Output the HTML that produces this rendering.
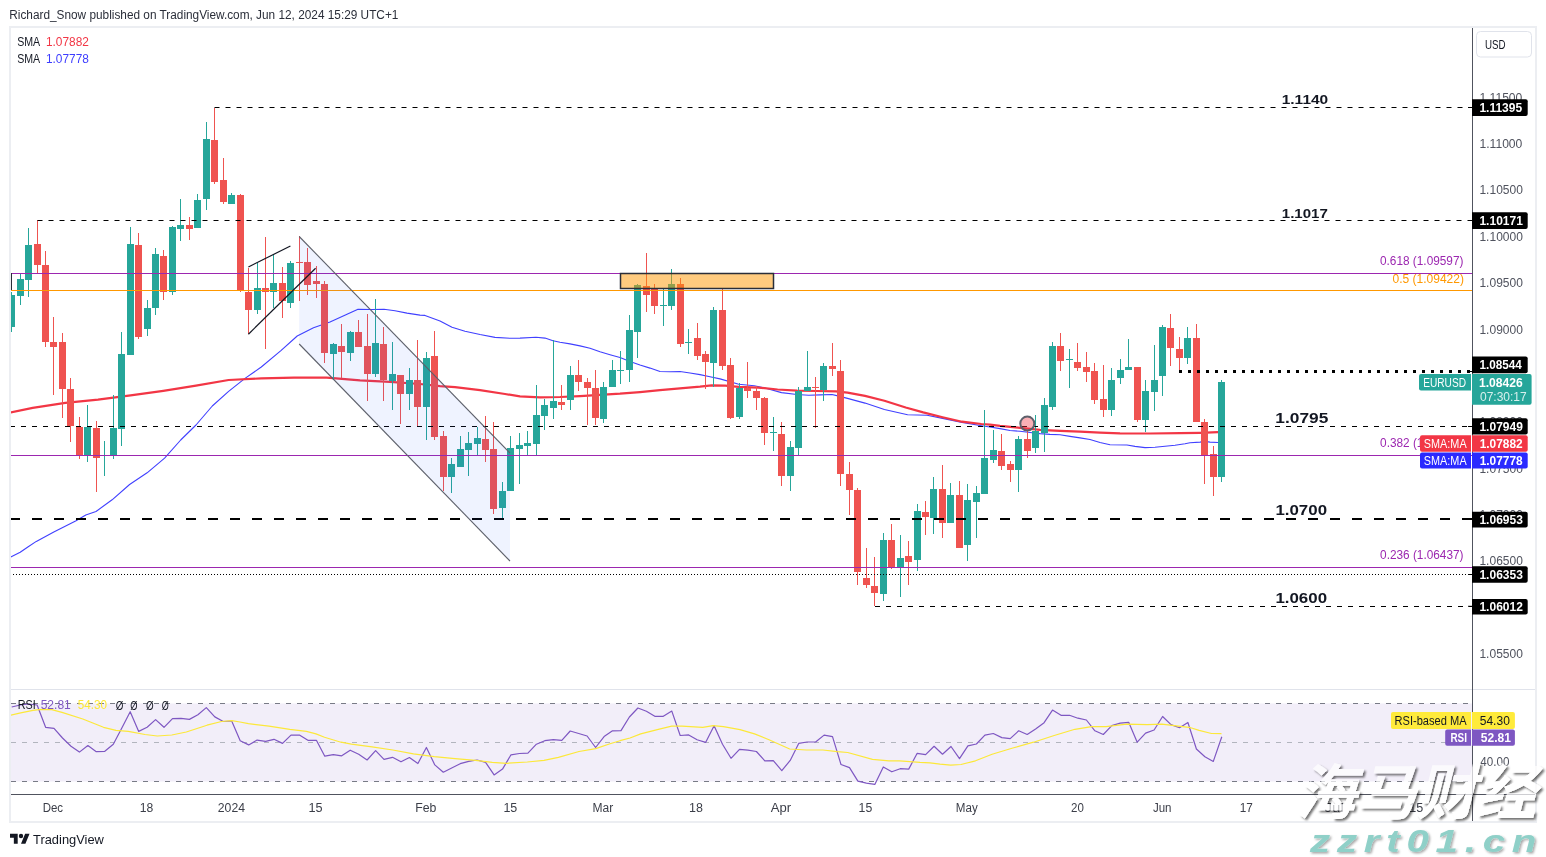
<!DOCTYPE html>
<html><head><meta charset="utf-8"><title>EURUSD chart</title>
<style>
html,body{margin:0;padding:0;background:#fff;}
body{width:1546px;height:857px;overflow:hidden;position:relative;font-family:"Liberation Sans", Arial, sans-serif;}
svg{position:absolute;left:0;top:0;}
svg text{font-family:"Liberation Sans", Arial, sans-serif;}
</style></head><body>
<svg width="1546" height="857" viewBox="0 0 1546 857">
<defs>
<clipPath id="cm"><rect x="11" y="28" width="1461.5" height="661"/></clipPath>
<clipPath id="cr"><rect x="11" y="690" width="1461.5" height="104"/></clipPath>
<filter id="wsh" x="-10%" y="-10%" width="130%" height="130%"><feGaussianBlur in="SourceAlpha" stdDeviation="1.1" result="b"/><feOffset in="b" dx="1.8" dy="1.8" result="o"/><feComposite in="o" in2="SourceAlpha" operator="out" result="so"/><feFlood flood-color="#000" flood-opacity="0.55"/><feComposite in2="so" operator="in" result="sh"/><feComponentTransfer in="SourceGraphic" result="g"><feFuncA type="linear" slope="0.72"/></feComponentTransfer><feMerge><feMergeNode in="sh"/><feMergeNode in="g"/></feMerge></filter>
<filter id="wsh2" x="-10%" y="-10%" width="130%" height="130%"><feDropShadow dx="1.5" dy="1.5" stdDeviation="0.8" flood-color="#000" flood-opacity="0.35"/></filter>
</defs>

<text x="9.27" y="19.1" font-size="12.5" fill="#2a2e39" font-weight="normal" textLength="389.13" lengthAdjust="spacingAndGlyphs">Richard_Snow published on TradingView.com, Jun 12, 2024 15:29 UTC+1</text>
<rect x="10" y="27" width="1526" height="795" fill="#fff" stroke="#eceef2" stroke-width="2"/>
<g clip-path="url(#cm)">
<polyline fill="none" stroke="#4040ff" stroke-width="1.1" stroke-linejoin="round" points="10.0,557.4 20.2,552.3 27.5,547.2 36.3,541.4 53.8,531.9 75.6,521.0 85.8,515.1 96.0,511.5 112.1,499.8 129.6,484.5 147.1,472.8 164.6,458.2 180.7,440.0 196.0,425.0 212.3,406.0 228.6,391.4 245.0,378.4 261.3,367.0 280.9,350.6 297.2,336.0 313.5,327.8 330.0,321.9 358.0,309.2 372.0,309.5 384.0,309.2 395.0,310.8 407.0,313.1 420.0,315.1 425.0,315.4 440.0,320.9 452.0,327.3 465.0,331.2 480.0,334.5 495.0,337.4 510.0,338.3 520.0,338.1 536.0,337.2 545.0,338.1 553.0,340.7 560.0,342.3 570.0,343.9 580.0,345.9 590.0,348.2 600.0,351.7 610.0,354.7 620.0,357.5 630.0,361.4 640.0,365.0 650.0,368.1 660.0,371.5 670.0,371.7 680.0,371.5 690.0,373.0 700.0,374.6 710.0,376.7 720.0,378.9 738.8,384.3 754.3,385.8 764.0,387.8 781.5,392.6 797.0,394.5 808.7,395.3 820.3,394.9 832.0,394.5 837.8,395.9 847.5,398.4 865.0,403.1 884.4,409.5 907.6,414.7 927.0,415.3 942.6,418.4 962.0,422.4 981.4,425.7 990.0,427.0 1000.0,428.6 1010.0,430.5 1020.0,431.3 1030.0,432.5 1040.0,433.6 1050.0,434.4 1060.0,434.8 1070.0,436.4 1080.0,437.9 1090.0,439.5 1100.0,442.5 1110.0,444.7 1127.0,445.0 1135.0,446.4 1145.0,447.6 1155.0,447.2 1165.0,446.2 1175.0,445.2 1185.0,443.7 1190.0,442.7 1200.0,442.1 1205.0,441.4 1210.0,442.1 1218.0,442.5"/>
<polyline fill="none" stroke="#f23645" stroke-width="2.2" stroke-linejoin="round" points="10.0,412.7 32.7,407.8 65.3,402.9 98.0,399.6 130.6,395.4 163.3,390.8 196.0,385.6 228.6,380.0 261.3,378.4 294.0,377.7 326.6,377.7 330.0,377.8 360.0,380.4 390.0,381.9 420.0,384.0 440.0,386.2 455.0,387.1 480.0,390.1 505.0,394.0 520.0,396.3 540.0,397.4 560.0,397.0 580.0,396.1 600.0,394.8 620.0,393.7 640.0,392.1 660.0,390.1 680.0,388.3 700.0,386.6 711.6,385.3 725.2,385.6 738.8,386.8 758.2,387.6 777.6,389.5 797.0,390.7 816.4,391.0 835.8,391.4 847.5,392.6 865.0,395.9 884.4,400.8 905.7,407.5 923.2,412.4 942.6,417.2 962.0,421.7 981.4,424.0 990.0,424.7 1000.0,425.9 1020.0,427.8 1040.0,429.8 1060.0,430.9 1080.0,431.7 1100.0,432.6 1120.0,433.3 1150.0,433.5 1180.0,433.2 1200.0,432.8 1218.0,432.2"/>
<rect x="11" y="292" width="1" height="40" fill="#26a69a"/>
<rect x="8" y="295" width="7" height="32" fill="#26a69a"/>
<rect x="20" y="274" width="1" height="31" fill="#26a69a"/>
<rect x="17" y="279" width="7" height="17" fill="#26a69a"/>
<rect x="28" y="228" width="1" height="69" fill="#26a69a"/>
<rect x="25" y="245" width="7" height="35" fill="#26a69a"/>
<rect x="37" y="220" width="1" height="53" fill="#ef5350"/>
<rect x="34" y="244" width="7" height="21" fill="#ef5350"/>
<rect x="45" y="251" width="1" height="96" fill="#ef5350"/>
<rect x="42" y="265" width="7" height="77" fill="#ef5350"/>
<rect x="53" y="317" width="1" height="78" fill="#ef5350"/>
<rect x="50" y="342" width="7" height="5" fill="#ef5350"/>
<rect x="62" y="333" width="1" height="85" fill="#ef5350"/>
<rect x="59" y="342" width="7" height="47" fill="#ef5350"/>
<rect x="70" y="378" width="1" height="64" fill="#ef5350"/>
<rect x="67" y="389" width="7" height="37" fill="#ef5350"/>
<rect x="79" y="417" width="1" height="42" fill="#ef5350"/>
<rect x="76" y="427" width="7" height="29" fill="#ef5350"/>
<rect x="87" y="405" width="1" height="57" fill="#26a69a"/>
<rect x="84" y="427" width="7" height="28" fill="#26a69a"/>
<rect x="96" y="421" width="1" height="71" fill="#ef5350"/>
<rect x="93" y="428" width="7" height="30" fill="#ef5350"/>
<rect x="104" y="441" width="1" height="35" fill="#26a69a"/>
<rect x="113" y="395" width="1" height="64" fill="#26a69a"/>
<rect x="110" y="428" width="7" height="27" fill="#26a69a"/>
<rect x="121" y="332" width="1" height="114" fill="#26a69a"/>
<rect x="118" y="354" width="7" height="75" fill="#26a69a"/>
<rect x="130" y="227" width="1" height="128" fill="#26a69a"/>
<rect x="127" y="244" width="7" height="111" fill="#26a69a"/>
<rect x="138" y="233" width="1" height="106" fill="#ef5350"/>
<rect x="135" y="245" width="7" height="92" fill="#ef5350"/>
<rect x="147" y="300" width="1" height="36" fill="#26a69a"/>
<rect x="144" y="308" width="7" height="21" fill="#26a69a"/>
<rect x="155" y="248" width="1" height="67" fill="#26a69a"/>
<rect x="152" y="254" width="7" height="54" fill="#26a69a"/>
<rect x="163" y="250" width="1" height="50" fill="#ef5350"/>
<rect x="160" y="256" width="7" height="36" fill="#ef5350"/>
<rect x="172" y="226" width="1" height="69" fill="#26a69a"/>
<rect x="169" y="227" width="7" height="65" fill="#26a69a"/>
<rect x="180" y="199" width="1" height="42" fill="#26a69a"/>
<rect x="177" y="225" width="7" height="4" fill="#26a69a"/>
<rect x="189" y="217" width="1" height="23" fill="#ef5350"/>
<rect x="186" y="225" width="7" height="4" fill="#ef5350"/>
<rect x="197" y="194" width="1" height="34" fill="#26a69a"/>
<rect x="194" y="200" width="7" height="28" fill="#26a69a"/>
<rect x="206" y="122" width="1" height="88" fill="#26a69a"/>
<rect x="203" y="139" width="7" height="60" fill="#26a69a"/>
<rect x="214" y="108" width="1" height="76" fill="#ef5350"/>
<rect x="211" y="140" width="7" height="42" fill="#ef5350"/>
<rect x="223" y="158" width="1" height="46" fill="#ef5350"/>
<rect x="220" y="180" width="7" height="22" fill="#ef5350"/>
<rect x="231" y="193" width="1" height="11" fill="#26a69a"/>
<rect x="228" y="195" width="7" height="9" fill="#26a69a"/>
<rect x="240" y="194" width="1" height="98" fill="#ef5350"/>
<rect x="237" y="195" width="7" height="95" fill="#ef5350"/>
<rect x="248" y="268" width="1" height="66" fill="#ef5350"/>
<rect x="245" y="292" width="7" height="18" fill="#ef5350"/>
<rect x="257" y="263" width="1" height="51" fill="#26a69a"/>
<rect x="254" y="288" width="7" height="22" fill="#26a69a"/>
<rect x="265" y="237" width="1" height="112" fill="#ef5350"/>
<rect x="262" y="288" width="7" height="4" fill="#ef5350"/>
<rect x="273" y="255" width="1" height="53" fill="#26a69a"/>
<rect x="270" y="283" width="7" height="9" fill="#26a69a"/>
<rect x="282" y="267" width="1" height="51" fill="#ef5350"/>
<rect x="279" y="283" width="7" height="18" fill="#ef5350"/>
<rect x="290" y="261" width="1" height="47" fill="#26a69a"/>
<rect x="287" y="263" width="7" height="40" fill="#26a69a"/>
<rect x="299" y="236" width="1" height="65" fill="#ef5350"/>
<rect x="296" y="262" width="7" height="1" fill="#ef5350"/>
<rect x="307" y="248" width="1" height="47" fill="#ef5350"/>
<rect x="304" y="262" width="7" height="23" fill="#ef5350"/>
<rect x="316" y="266" width="1" height="32" fill="#ef5350"/>
<rect x="313" y="281" width="7" height="3" fill="#ef5350"/>
<rect x="324" y="281" width="1" height="82" fill="#ef5350"/>
<rect x="321" y="284" width="7" height="69" fill="#ef5350"/>
<rect x="333" y="343" width="1" height="36" fill="#26a69a"/>
<rect x="330" y="344" width="7" height="10" fill="#26a69a"/>
<rect x="341" y="324" width="1" height="54" fill="#ef5350"/>
<rect x="338" y="346" width="7" height="6" fill="#ef5350"/>
<rect x="350" y="331" width="1" height="30" fill="#26a69a"/>
<rect x="347" y="332" width="7" height="21" fill="#26a69a"/>
<rect x="358" y="320" width="1" height="27" fill="#ef5350"/>
<rect x="355" y="332" width="7" height="15" fill="#ef5350"/>
<rect x="367" y="314" width="1" height="87" fill="#ef5350"/>
<rect x="364" y="346" width="7" height="28" fill="#ef5350"/>
<rect x="375" y="299" width="1" height="78" fill="#26a69a"/>
<rect x="372" y="343" width="7" height="31" fill="#26a69a"/>
<rect x="383" y="327" width="1" height="74" fill="#ef5350"/>
<rect x="380" y="344" width="7" height="36" fill="#ef5350"/>
<rect x="392" y="342" width="1" height="68" fill="#26a69a"/>
<rect x="389" y="374" width="7" height="7" fill="#26a69a"/>
<rect x="400" y="375" width="1" height="49" fill="#ef5350"/>
<rect x="397" y="375" width="7" height="19" fill="#ef5350"/>
<rect x="409" y="368" width="1" height="42" fill="#26a69a"/>
<rect x="406" y="380" width="7" height="14" fill="#26a69a"/>
<rect x="417" y="340" width="1" height="86" fill="#ef5350"/>
<rect x="414" y="380" width="7" height="27" fill="#ef5350"/>
<rect x="426" y="352" width="1" height="88" fill="#26a69a"/>
<rect x="423" y="358" width="7" height="49" fill="#26a69a"/>
<rect x="434" y="331" width="1" height="109" fill="#ef5350"/>
<rect x="431" y="356" width="7" height="81" fill="#ef5350"/>
<rect x="443" y="431" width="1" height="60" fill="#ef5350"/>
<rect x="440" y="436" width="7" height="41" fill="#ef5350"/>
<rect x="451" y="458" width="1" height="35" fill="#26a69a"/>
<rect x="448" y="464" width="7" height="13" fill="#26a69a"/>
<rect x="460" y="436" width="1" height="31" fill="#26a69a"/>
<rect x="457" y="449" width="7" height="18" fill="#26a69a"/>
<rect x="468" y="432" width="1" height="44" fill="#26a69a"/>
<rect x="465" y="443" width="7" height="7" fill="#26a69a"/>
<rect x="477" y="427" width="1" height="29" fill="#26a69a"/>
<rect x="474" y="438" width="7" height="6" fill="#26a69a"/>
<rect x="485" y="416" width="1" height="46" fill="#ef5350"/>
<rect x="482" y="439" width="7" height="11" fill="#ef5350"/>
<rect x="493" y="422" width="1" height="92" fill="#ef5350"/>
<rect x="490" y="449" width="7" height="60" fill="#ef5350"/>
<rect x="502" y="482" width="1" height="36" fill="#26a69a"/>
<rect x="499" y="491" width="7" height="17" fill="#26a69a"/>
<rect x="510" y="436" width="1" height="55" fill="#26a69a"/>
<rect x="507" y="448" width="7" height="43" fill="#26a69a"/>
<rect x="519" y="433" width="1" height="51" fill="#26a69a"/>
<rect x="516" y="445" width="7" height="4" fill="#26a69a"/>
<rect x="527" y="431" width="1" height="25" fill="#26a69a"/>
<rect x="524" y="443" width="7" height="3" fill="#26a69a"/>
<rect x="536" y="385" width="1" height="71" fill="#26a69a"/>
<rect x="533" y="415" width="7" height="29" fill="#26a69a"/>
<rect x="544" y="399" width="1" height="31" fill="#26a69a"/>
<rect x="541" y="405" width="7" height="11" fill="#26a69a"/>
<rect x="553" y="340" width="1" height="79" fill="#26a69a"/>
<rect x="550" y="401" width="7" height="7" fill="#26a69a"/>
<rect x="561" y="385" width="1" height="25" fill="#ef5350"/>
<rect x="558" y="402" width="7" height="3" fill="#ef5350"/>
<rect x="570" y="366" width="1" height="44" fill="#26a69a"/>
<rect x="567" y="375" width="7" height="25" fill="#26a69a"/>
<rect x="578" y="360" width="1" height="31" fill="#ef5350"/>
<rect x="575" y="375" width="7" height="7" fill="#ef5350"/>
<rect x="587" y="378" width="1" height="47" fill="#ef5350"/>
<rect x="584" y="382" width="7" height="6" fill="#ef5350"/>
<rect x="595" y="370" width="1" height="55" fill="#ef5350"/>
<rect x="592" y="388" width="7" height="30" fill="#ef5350"/>
<rect x="603" y="382" width="1" height="41" fill="#26a69a"/>
<rect x="600" y="387" width="7" height="32" fill="#26a69a"/>
<rect x="612" y="360" width="1" height="27" fill="#26a69a"/>
<rect x="609" y="370" width="7" height="17" fill="#26a69a"/>
<rect x="620" y="351" width="1" height="33" fill="#26a69a"/>
<rect x="617" y="370" width="7" height="1" fill="#26a69a"/>
<rect x="629" y="315" width="1" height="67" fill="#26a69a"/>
<rect x="626" y="330" width="7" height="40" fill="#26a69a"/>
<rect x="637" y="284" width="1" height="74" fill="#26a69a"/>
<rect x="634" y="285" width="7" height="47" fill="#26a69a"/>
<rect x="646" y="253" width="1" height="59" fill="#ef5350"/>
<rect x="643" y="286" width="7" height="9" fill="#ef5350"/>
<rect x="654" y="284" width="1" height="30" fill="#ef5350"/>
<rect x="651" y="289" width="7" height="17" fill="#ef5350"/>
<rect x="663" y="289" width="1" height="37" fill="#26a69a"/>
<rect x="660" y="305" width="7" height="1" fill="#26a69a"/>
<rect x="671" y="269" width="1" height="41" fill="#26a69a"/>
<rect x="668" y="284" width="7" height="22" fill="#26a69a"/>
<rect x="680" y="278" width="1" height="69" fill="#ef5350"/>
<rect x="677" y="284" width="7" height="60" fill="#ef5350"/>
<rect x="688" y="329" width="1" height="25" fill="#26a69a"/>
<rect x="685" y="342" width="7" height="1" fill="#26a69a"/>
<rect x="697" y="323" width="1" height="37" fill="#ef5350"/>
<rect x="694" y="338" width="7" height="18" fill="#ef5350"/>
<rect x="705" y="351" width="1" height="38" fill="#ef5350"/>
<rect x="702" y="354" width="7" height="8" fill="#ef5350"/>
<rect x="713" y="307" width="1" height="80" fill="#26a69a"/>
<rect x="710" y="310" width="7" height="53" fill="#26a69a"/>
<rect x="722" y="289" width="1" height="81" fill="#ef5350"/>
<rect x="719" y="310" width="7" height="56" fill="#ef5350"/>
<rect x="730" y="358" width="1" height="61" fill="#ef5350"/>
<rect x="727" y="365" width="7" height="53" fill="#ef5350"/>
<rect x="739" y="383" width="1" height="36" fill="#26a69a"/>
<rect x="736" y="388" width="7" height="29" fill="#26a69a"/>
<rect x="747" y="362" width="1" height="36" fill="#ef5350"/>
<rect x="744" y="388" width="7" height="3" fill="#ef5350"/>
<rect x="756" y="386" width="1" height="24" fill="#ef5350"/>
<rect x="753" y="391" width="7" height="7" fill="#ef5350"/>
<rect x="764" y="397" width="1" height="48" fill="#ef5350"/>
<rect x="761" y="398" width="7" height="35" fill="#ef5350"/>
<rect x="773" y="417" width="1" height="34" fill="#26a69a"/>
<rect x="770" y="432" width="7" height="1" fill="#26a69a"/>
<rect x="781" y="422" width="1" height="64" fill="#ef5350"/>
<rect x="778" y="434" width="7" height="42" fill="#ef5350"/>
<rect x="790" y="441" width="1" height="50" fill="#26a69a"/>
<rect x="787" y="447" width="7" height="29" fill="#26a69a"/>
<rect x="798" y="387" width="1" height="68" fill="#26a69a"/>
<rect x="795" y="391" width="7" height="57" fill="#26a69a"/>
<rect x="807" y="351" width="1" height="40" fill="#26a69a"/>
<rect x="804" y="387" width="7" height="4" fill="#26a69a"/>
<rect x="815" y="377" width="1" height="51" fill="#ef5350"/>
<rect x="812" y="387" width="7" height="1" fill="#ef5350"/>
<rect x="823" y="363" width="1" height="38" fill="#26a69a"/>
<rect x="820" y="366" width="7" height="24" fill="#26a69a"/>
<rect x="832" y="343" width="1" height="33" fill="#ef5350"/>
<rect x="829" y="366" width="7" height="3" fill="#ef5350"/>
<rect x="840" y="360" width="1" height="126" fill="#ef5350"/>
<rect x="837" y="371" width="7" height="103" fill="#ef5350"/>
<rect x="849" y="462" width="1" height="53" fill="#ef5350"/>
<rect x="846" y="474" width="7" height="16" fill="#ef5350"/>
<rect x="857" y="488" width="1" height="97" fill="#ef5350"/>
<rect x="854" y="490" width="7" height="82" fill="#ef5350"/>
<rect x="866" y="548" width="1" height="40" fill="#ef5350"/>
<rect x="863" y="578" width="7" height="7" fill="#ef5350"/>
<rect x="874" y="557" width="1" height="49" fill="#ef5350"/>
<rect x="871" y="586" width="7" height="7" fill="#ef5350"/>
<rect x="883" y="533" width="1" height="68" fill="#26a69a"/>
<rect x="880" y="540" width="7" height="54" fill="#26a69a"/>
<rect x="891" y="524" width="1" height="45" fill="#ef5350"/>
<rect x="888" y="540" width="7" height="28" fill="#ef5350"/>
<rect x="900" y="535" width="1" height="62" fill="#26a69a"/>
<rect x="897" y="558" width="7" height="9" fill="#26a69a"/>
<rect x="908" y="541" width="1" height="44" fill="#ef5350"/>
<rect x="905" y="556" width="7" height="6" fill="#ef5350"/>
<rect x="917" y="504" width="1" height="67" fill="#26a69a"/>
<rect x="914" y="511" width="7" height="49" fill="#26a69a"/>
<rect x="925" y="501" width="1" height="34" fill="#ef5350"/>
<rect x="922" y="512" width="7" height="5" fill="#ef5350"/>
<rect x="933" y="477" width="1" height="57" fill="#26a69a"/>
<rect x="930" y="489" width="7" height="29" fill="#26a69a"/>
<rect x="942" y="465" width="1" height="73" fill="#ef5350"/>
<rect x="939" y="489" width="7" height="34" fill="#ef5350"/>
<rect x="950" y="483" width="1" height="40" fill="#26a69a"/>
<rect x="947" y="495" width="7" height="28" fill="#26a69a"/>
<rect x="959" y="481" width="1" height="67" fill="#ef5350"/>
<rect x="956" y="495" width="7" height="53" fill="#ef5350"/>
<rect x="967" y="484" width="1" height="77" fill="#26a69a"/>
<rect x="964" y="500" width="7" height="45" fill="#26a69a"/>
<rect x="976" y="486" width="1" height="52" fill="#26a69a"/>
<rect x="973" y="493" width="7" height="9" fill="#26a69a"/>
<rect x="984" y="410" width="1" height="84" fill="#26a69a"/>
<rect x="981" y="458" width="7" height="36" fill="#26a69a"/>
<rect x="993" y="430" width="1" height="33" fill="#26a69a"/>
<rect x="990" y="450" width="7" height="10" fill="#26a69a"/>
<rect x="1001" y="434" width="1" height="36" fill="#ef5350"/>
<rect x="998" y="451" width="7" height="15" fill="#ef5350"/>
<rect x="1010" y="461" width="1" height="21" fill="#ef5350"/>
<rect x="1007" y="464" width="7" height="6" fill="#ef5350"/>
<rect x="1018" y="436" width="1" height="56" fill="#26a69a"/>
<rect x="1015" y="439" width="7" height="31" fill="#26a69a"/>
<rect x="1027" y="430" width="1" height="28" fill="#ef5350"/>
<rect x="1024" y="439" width="7" height="12" fill="#ef5350"/>
<rect x="1035" y="415" width="1" height="38" fill="#26a69a"/>
<rect x="1032" y="431" width="7" height="17" fill="#26a69a"/>
<rect x="1044" y="398" width="1" height="54" fill="#26a69a"/>
<rect x="1041" y="405" width="7" height="28" fill="#26a69a"/>
<rect x="1052" y="342" width="1" height="68" fill="#26a69a"/>
<rect x="1049" y="346" width="7" height="61" fill="#26a69a"/>
<rect x="1060" y="333" width="1" height="38" fill="#ef5350"/>
<rect x="1057" y="346" width="7" height="15" fill="#ef5350"/>
<rect x="1069" y="349" width="1" height="39" fill="#26a69a"/>
<rect x="1066" y="359" width="7" height="1" fill="#26a69a"/>
<rect x="1077" y="343" width="1" height="28" fill="#ef5350"/>
<rect x="1074" y="362" width="7" height="6" fill="#ef5350"/>
<rect x="1086" y="352" width="1" height="30" fill="#ef5350"/>
<rect x="1083" y="367" width="7" height="5" fill="#ef5350"/>
<rect x="1094" y="363" width="1" height="41" fill="#ef5350"/>
<rect x="1091" y="371" width="7" height="29" fill="#ef5350"/>
<rect x="1103" y="365" width="1" height="52" fill="#ef5350"/>
<rect x="1100" y="399" width="7" height="11" fill="#ef5350"/>
<rect x="1111" y="368" width="1" height="48" fill="#26a69a"/>
<rect x="1108" y="380" width="7" height="30" fill="#26a69a"/>
<rect x="1120" y="359" width="1" height="25" fill="#26a69a"/>
<rect x="1117" y="370" width="7" height="8" fill="#26a69a"/>
<rect x="1128" y="339" width="1" height="31" fill="#26a69a"/>
<rect x="1125" y="367" width="7" height="3" fill="#26a69a"/>
<rect x="1137" y="367" width="1" height="55" fill="#ef5350"/>
<rect x="1134" y="367" width="7" height="53" fill="#ef5350"/>
<rect x="1145" y="380" width="1" height="52" fill="#26a69a"/>
<rect x="1142" y="391" width="7" height="29" fill="#26a69a"/>
<rect x="1154" y="345" width="1" height="66" fill="#26a69a"/>
<rect x="1151" y="380" width="7" height="12" fill="#26a69a"/>
<rect x="1162" y="325" width="1" height="71" fill="#26a69a"/>
<rect x="1159" y="327" width="7" height="49" fill="#26a69a"/>
<rect x="1170" y="314" width="1" height="52" fill="#ef5350"/>
<rect x="1167" y="328" width="7" height="20" fill="#ef5350"/>
<rect x="1179" y="337" width="1" height="33" fill="#ef5350"/>
<rect x="1176" y="349" width="7" height="9" fill="#ef5350"/>
<rect x="1187" y="327" width="1" height="37" fill="#26a69a"/>
<rect x="1184" y="338" width="7" height="20" fill="#26a69a"/>
<rect x="1196" y="324" width="1" height="98" fill="#ef5350"/>
<rect x="1193" y="338" width="7" height="84" fill="#ef5350"/>
<rect x="1204" y="419" width="1" height="65" fill="#ef5350"/>
<rect x="1201" y="422" width="7" height="33" fill="#ef5350"/>
<rect x="1213" y="446" width="1" height="50" fill="#ef5350"/>
<rect x="1210" y="454" width="7" height="23" fill="#ef5350"/>
<rect x="1221" y="380" width="1" height="102" fill="#26a69a"/>
<rect x="1218" y="382" width="7" height="95" fill="#26a69a"/>
<line x1="214.5" y1="107.5" x2="1472" y2="107.5" stroke="#000" stroke-width="1" stroke-dasharray="5 6"/>
<line x1="37.5" y1="220.5" x2="1472" y2="220.5" stroke="#000" stroke-width="1" stroke-dasharray="5 6"/>
<line x1="10" y1="426.5" x2="1472" y2="426.5" stroke="#000" stroke-width="1" stroke-dasharray="5 6"/>
<line x1="10" y1="519" x2="1472" y2="519" stroke="#000" stroke-width="2" stroke-dasharray="10 12"/>
<line x1="875" y1="606.5" x2="1472" y2="606.5" stroke="#000" stroke-width="1" stroke-dasharray="5 6"/>
<line x1="1179" y1="371.5" x2="1472" y2="371.5" stroke="#000" stroke-width="3" stroke-dasharray="3 6"/>
<line x1="10" y1="574.5" x2="1472" y2="574.5" stroke="#000" stroke-width="1" stroke-dasharray="1 2"/>
<line x1="10" y1="273.5" x2="1472" y2="273.5" stroke="#9c27b0" stroke-width="1"/>
<line x1="10" y1="290.5" x2="1472" y2="290.5" stroke="#ff9800" stroke-width="1"/>
<line x1="10" y1="455.5" x2="1472" y2="455.5" stroke="#9c27b0" stroke-width="1"/>
<line x1="10" y1="567.5" x2="1472" y2="567.5" stroke="#9c27b0" stroke-width="1"/>
<polygon points="299.2,236.5 510,453 510,561 299.2,344" fill="rgba(41,98,255,0.075)"/>
<line x1="299.2" y1="236.5" x2="510" y2="453" stroke="#5d606b" stroke-width="1.1"/>
<line x1="299.2" y1="344" x2="510" y2="561" stroke="#5d606b" stroke-width="1.1"/>
<line x1="248.4" y1="267" x2="290.4" y2="246" stroke="#131722" stroke-width="1.2"/>
<line x1="248.4" y1="334.2" x2="315.6" y2="268.3" stroke="#131722" stroke-width="1.2"/>
<rect x="620.5" y="273.5" width="153" height="15" fill="rgba(255,152,0,0.5)" stroke="#2a2e39" stroke-width="1.5"/>
<circle cx="1027.3" cy="423.6" r="7" fill="rgba(242,54,69,0.4)" stroke="#5d606b" stroke-width="2"/>
<line x1="11.5" y1="273" x2="11.5" y2="290" stroke="#2a2e39" stroke-width="1"/>
</g>
<text x="1281.72" y="103.8" font-size="13.5" fill="#131722" font-weight="bold" textLength="46.48" lengthAdjust="spacingAndGlyphs">1.1140</text>
<text x="1281.76" y="218" font-size="13.5" fill="#131722" font-weight="bold" textLength="46.1" lengthAdjust="spacingAndGlyphs">1.1017</text>
<text x="1275.37" y="422.7" font-size="14.5" fill="#131722" font-weight="bold" textLength="52.99" lengthAdjust="spacingAndGlyphs">1.0795</text>
<text x="1275.41" y="514.6" font-size="14.5" fill="#131722" font-weight="bold" textLength="51.63" lengthAdjust="spacingAndGlyphs">1.0700</text>
<text x="1275.41" y="602.9" font-size="14.5" fill="#131722" font-weight="bold" textLength="51.63" lengthAdjust="spacingAndGlyphs">1.0600</text>
<text x="1380.0" y="265.1" font-size="12.5" fill="#9c27b0" font-weight="normal" textLength="83.41" lengthAdjust="spacingAndGlyphs">0.618 (1.09597)</text>
<text x="1392.5" y="282.7" font-size="12.5" fill="#ff9800" font-weight="normal" textLength="71.44" lengthAdjust="spacingAndGlyphs">0.5 (1.09422)</text>
<text x="1380.1" y="446.9" font-size="12.5" fill="#9c27b0" font-weight="normal" textLength="83.41" lengthAdjust="spacingAndGlyphs">0.382 (1.07639)</text>
<text x="1380.1" y="558.5" font-size="12.5" fill="#9c27b0" font-weight="normal" textLength="83.41" lengthAdjust="spacingAndGlyphs">0.236 (1.06437)</text>
<text x="17.15" y="46.2" font-size="12.5" fill="#131722" font-weight="normal" textLength="22.98" lengthAdjust="spacingAndGlyphs">SMA</text>
<text x="45.94" y="46.2" font-size="12.5" fill="#f23645" font-weight="normal" textLength="42.92" lengthAdjust="spacingAndGlyphs">1.07882</text>
<text x="17.15" y="62.9" font-size="12.5" fill="#131722" font-weight="normal" textLength="22.98" lengthAdjust="spacingAndGlyphs">SMA</text>
<text x="45.94" y="62.9" font-size="12.5" fill="#3d3dff" font-weight="normal" textLength="42.92" lengthAdjust="spacingAndGlyphs">1.07778</text>
<g clip-path="url(#cr)">
<rect x="11" y="703.5" width="1461" height="78" fill="rgba(126,87,194,0.1)"/>
<line x1="11" y1="703.5" x2="1472" y2="703.5" stroke="#787b86" stroke-width="1" stroke-dasharray="5 6"/>
<line x1="11" y1="742.5" x2="1472" y2="742.5" stroke="#b2b5be" stroke-width="1" stroke-dasharray="5 6"/>
<line x1="11" y1="781.5" x2="1472" y2="781.5" stroke="#787b86" stroke-width="1" stroke-dasharray="5 6"/>
<polyline fill="none" stroke="#7e57c2" stroke-width="1.2" stroke-linejoin="round" points="11.7,707.0 20.2,705.0 28.6,704.0 37.1,705.0 45.6,727.3 54.0,728.3 62.5,738.0 71.0,746.3 79.4,752.1 87.9,745.5 96.3,751.7 104.8,751.3 113.3,744.2 121.7,728.3 130.2,711.7 138.7,731.4 147.1,727.3 155.6,719.6 164.0,727.3 172.5,718.6 181.0,718.4 189.4,719.4 197.9,714.8 206.3,707.6 214.8,716.9 223.3,721.5 231.7,721.0 240.2,740.7 248.7,744.9 257.1,740.1 265.6,741.3 274.0,739.3 282.5,743.4 291.0,735.1 299.4,735.1 307.9,740.3 316.4,740.3 324.8,756.2 333.3,754.6 341.7,755.8 350.2,750.2 358.7,754.2 367.1,760.0 375.6,750.7 384.0,759.3 392.5,757.3 401.0,761.8 409.4,757.5 417.9,763.5 426.4,747.5 434.8,764.9 443.3,772.2 451.7,768.0 460.2,763.7 468.7,761.4 477.1,760.0 485.6,762.4 494.1,774.9 502.5,769.1 511.0,754.8 519.4,753.5 527.9,753.1 536.4,744.2 544.8,740.7 553.3,739.7 561.8,740.3 570.2,731.0 578.7,733.5 587.1,736.0 595.6,747.5 604.1,736.6 612.5,730.8 621.0,730.6 629.4,717.0 637.9,708.0 646.4,711.3 654.8,716.3 663.3,716.3 671.8,711.1 680.2,735.5 688.7,734.9 697.1,739.7 705.6,742.4 714.1,725.8 722.5,744.2 731.0,758.3 739.5,749.4 747.9,750.2 756.4,751.5 764.8,760.8 773.3,760.6 781.8,770.7 790.2,760.4 798.7,743.4 807.1,742.0 815.6,742.0 824.1,735.1 832.5,736.6 841.0,764.5 849.5,767.6 857.9,781.1 866.4,783.1 874.8,784.4 883.3,767.0 891.8,771.8 900.2,768.7 908.7,769.1 917.2,753.3 925.6,754.6 934.1,746.3 942.5,754.2 951.0,746.5 959.5,758.7 967.9,745.9 976.4,744.0 984.9,735.1 993.3,733.5 1001.8,737.6 1010.2,738.6 1018.7,730.8 1027.2,734.5 1035.6,728.9 1044.1,722.7 1052.5,710.1 1061.0,715.3 1069.5,715.3 1077.9,718.2 1086.4,720.0 1094.9,730.8 1103.3,734.5 1111.8,725.6 1120.2,723.1 1128.7,722.3 1137.2,742.2 1145.6,733.1 1154.1,730.0 1162.6,716.5 1171.0,724.6 1179.5,727.7 1187.9,722.5 1196.4,749.0 1204.9,756.7 1213.3,761.4 1221.8,736.8"/>
<polyline fill="none" stroke="#fce83a" stroke-width="1.2" stroke-linejoin="round" points="10.0,715.3 20.7,712.8 33.0,710.3 41.4,709.3 51.7,709.7 62.0,712.4 82.8,719.0 103.5,727.3 116.0,730.4 128.3,731.4 145.0,734.5 157.3,736.0 171.8,735.0 186.3,732.0 207.0,725.2 221.5,721.5 231.8,720.6 240.0,722.0 248.4,723.7 269.0,726.2 289.8,729.3 306.4,731.4 316.0,733.9 324.5,737.2 341.0,742.2 351.4,744.2 372.0,746.9 392.8,750.0 413.5,753.8 434.2,756.7 455.0,758.7 475.6,760.4 492.2,762.4 506.6,763.3 527.3,762.0 544.0,760.4 558.4,757.3 579.0,751.5 595.7,748.6 610.0,743.8 620.0,740.7 630.0,738.0 640.7,733.9 657.3,729.7 671.7,726.2 682.0,726.2 702.8,727.3 713.1,725.6 723.5,726.6 740.0,729.7 754.5,733.9 769.0,739.7 789.7,749.0 806.3,750.0 822.9,750.0 837.3,751.7 847.7,752.5 872.5,759.3 889.0,760.8 899.4,760.8 920.0,762.4 930.0,762.9 940.0,764.1 950.7,765.1 961.0,764.5 975.5,760.8 992.1,754.2 1012.8,748.0 1033.5,742.2 1054.2,735.5 1074.9,729.3 1091.5,726.6 1106.0,726.6 1126.6,724.2 1147.3,724.6 1161.8,724.2 1178.4,726.2 1190.8,727.7 1199.1,730.4 1211.5,733.5 1221.5,733.7"/>
</g>
<text x="17.68" y="709" font-size="12.5" fill="#131722" font-weight="normal" textLength="17.97" lengthAdjust="spacingAndGlyphs">RSI</text>
<text x="40.63" y="709" font-size="12.5" fill="#7e57c2" font-weight="normal" textLength="30.18" lengthAdjust="spacingAndGlyphs">52.81</text>
<text x="77.86" y="709" font-size="12.5" fill="#fce83a" font-weight="normal" textLength="29.17" lengthAdjust="spacingAndGlyphs">54.30</text>
<text x="115.8" y="709.6" font-size="12.5" fill="#131722" font-weight="normal" textLength="7.63" lengthAdjust="spacingAndGlyphs">&#216;</text>
<text x="130.2" y="709.6" font-size="12.5" fill="#131722" font-weight="normal" textLength="7.23" lengthAdjust="spacingAndGlyphs">&#216;</text>
<text x="146.1" y="709.6" font-size="12.5" fill="#131722" font-weight="normal" textLength="7.63" lengthAdjust="spacingAndGlyphs">&#216;</text>
<text x="161.8" y="709.6" font-size="12.5" fill="#131722" font-weight="normal" textLength="7.02" lengthAdjust="spacingAndGlyphs">&#216;</text>
<line x1="11" y1="689.5" x2="1535" y2="689.5" stroke="#e0e3eb" stroke-width="1"/>
<line x1="11" y1="794.5" x2="1535" y2="794.5" stroke="#50535e" stroke-width="1"/>
<line x1="1472.5" y1="28" x2="1472.5" y2="821" stroke="#50535e" stroke-width="1"/>
<text x="1479.43" y="101.6" font-size="12.5" fill="#50535e" font-weight="normal" textLength="42.95" lengthAdjust="spacingAndGlyphs">1.11500</text>
<text x="1479.43" y="148.0" font-size="12.5" fill="#50535e" font-weight="normal" textLength="42.95" lengthAdjust="spacingAndGlyphs">1.11000</text>
<text x="1479.43" y="194.4" font-size="12.5" fill="#50535e" font-weight="normal" textLength="43.44" lengthAdjust="spacingAndGlyphs">1.10500</text>
<text x="1479.43" y="240.7" font-size="12.5" fill="#50535e" font-weight="normal" textLength="43.44" lengthAdjust="spacingAndGlyphs">1.10000</text>
<text x="1479.43" y="287.1" font-size="12.5" fill="#50535e" font-weight="normal" textLength="43.44" lengthAdjust="spacingAndGlyphs">1.09500</text>
<text x="1479.43" y="333.5" font-size="12.5" fill="#50535e" font-weight="normal" textLength="43.44" lengthAdjust="spacingAndGlyphs">1.09000</text>
<text x="1479.43" y="426.2" font-size="12.5" fill="#50535e" font-weight="normal" textLength="43.44" lengthAdjust="spacingAndGlyphs">1.08000</text>
<text x="1479.43" y="472.6" font-size="12.5" fill="#50535e" font-weight="normal" textLength="43.44" lengthAdjust="spacingAndGlyphs">1.07500</text>
<text x="1479.43" y="519.0" font-size="12.5" fill="#50535e" font-weight="normal" textLength="43.44" lengthAdjust="spacingAndGlyphs">1.07000</text>
<text x="1479.43" y="565.4" font-size="12.5" fill="#50535e" font-weight="normal" textLength="43.44" lengthAdjust="spacingAndGlyphs">1.06500</text>
<text x="1479.43" y="611.7" font-size="12.5" fill="#50535e" font-weight="normal" textLength="43.44" lengthAdjust="spacingAndGlyphs">1.06000</text>
<text x="1479.43" y="658.1" font-size="12.5" fill="#50535e" font-weight="normal" textLength="43.44" lengthAdjust="spacingAndGlyphs">1.05500</text>
<text x="1480.3" y="765.9" font-size="12.5" fill="#50535e" font-weight="normal" textLength="29.13" lengthAdjust="spacingAndGlyphs">40.00</text>
<rect x="1476.5" y="31.5" width="55" height="25.5" rx="4" fill="#fff" stroke="#e0e3eb" stroke-width="1"/>
<text x="1484.88" y="48.9" font-size="12.5" fill="#131722" font-weight="normal" textLength="20.64" lengthAdjust="spacingAndGlyphs">USD</text>
<path d="M1472,99.2 H1525.7 Q1527.7,99.2 1527.7,101.2 V114 Q1527.7,116 1525.7,116 H1472 Z" fill="#000"/>
<text x="1479.43" y="112.0" font-size="12.5" fill="#fff" font-weight="bold" textLength="42.7" lengthAdjust="spacingAndGlyphs">1.11395</text>
<path d="M1472,212.2 H1525.7 Q1527.7,212.2 1527.7,214.2 V227 Q1527.7,229 1525.7,229 H1472 Z" fill="#000"/>
<text x="1479.43" y="225.0" font-size="12.5" fill="#fff" font-weight="bold" textLength="43.44" lengthAdjust="spacingAndGlyphs">1.10171</text>
<path d="M1472,356.5 H1525.7 Q1527.7,356.5 1527.7,358.5 V371.3 Q1527.7,373.3 1525.7,373.3 H1472 Z" fill="#000"/>
<text x="1479.46" y="369.29999999999995" font-size="12.5" fill="#fff" font-weight="bold" textLength="42.35" lengthAdjust="spacingAndGlyphs">1.08544</text>
<path d="M1472,418.3 H1525.7 Q1527.7,418.3 1527.7,420.3 V432.6 Q1527.7,434.6 1525.7,434.6 H1472 Z" fill="#000"/>
<text x="1479.43" y="430.85" font-size="12.5" fill="#fff" font-weight="bold" textLength="43.44" lengthAdjust="spacingAndGlyphs">1.07949</text>
<path d="M1472,511.7 H1525.7 Q1527.7,511.7 1527.7,513.7 V525.6 Q1527.7,527.6 1525.7,527.6 H1472 Z" fill="#000"/>
<text x="1479.43" y="524.05" font-size="12.5" fill="#fff" font-weight="bold" textLength="43.44" lengthAdjust="spacingAndGlyphs">1.06953</text>
<path d="M1472,566.3 H1525.7 Q1527.7,566.3 1527.7,568.3 V580.8 Q1527.7,582.8 1525.7,582.8 H1472 Z" fill="#000"/>
<text x="1479.43" y="578.9499999999999" font-size="12.5" fill="#fff" font-weight="bold" textLength="43.44" lengthAdjust="spacingAndGlyphs">1.06353</text>
<path d="M1472,598.9 H1525.7 Q1527.7,598.9 1527.7,600.9 V612.6 Q1527.7,614.6 1525.7,614.6 H1472 Z" fill="#000"/>
<text x="1479.43" y="611.15" font-size="12.5" fill="#fff" font-weight="bold" textLength="43.44" lengthAdjust="spacingAndGlyphs">1.06012</text>
<line x1="1468" y1="107.5" x2="1472" y2="107.5" stroke="#000" stroke-width="1"/>
<line x1="1468" y1="220.5" x2="1472" y2="220.5" stroke="#000" stroke-width="1"/>
<line x1="1468" y1="371.5" x2="1472" y2="371.5" stroke="#000" stroke-width="1"/>
<line x1="1468" y1="426.5" x2="1472" y2="426.5" stroke="#000" stroke-width="1"/>
<line x1="1468" y1="519" x2="1472" y2="519" stroke="#000" stroke-width="1"/>
<line x1="1468" y1="574.5" x2="1472" y2="574.5" stroke="#000" stroke-width="1"/>
<line x1="1468" y1="606.3" x2="1472" y2="606.3" stroke="#000" stroke-width="1"/>
<path d="M1472,374 H1529.6 Q1531.6,374 1531.6,376 V402.8 Q1531.6,404.8 1529.6,404.8 H1472 Z" fill="#26a69a"/>
<text x="1478.92" y="386.9" font-size="12.5" fill="#fff" font-weight="bold" textLength="43.75" lengthAdjust="spacingAndGlyphs">1.08426</text>
<text x="1480.0" y="400.9" font-size="12.5" fill="rgba(255,255,255,0.82)" font-weight="normal" textLength="46.68" lengthAdjust="spacingAndGlyphs">07:30:17</text>
<path d="M1471,374 H1421 Q1419,374 1419,376 V388.5 Q1419,390.5 1421,390.5 H1471 Z" fill="#26a69a"/>
<text x="1423.14" y="386.8" font-size="12.5" fill="#fff" font-weight="normal" textLength="42.87" lengthAdjust="spacingAndGlyphs">EURUSD</text>
<path d="M1472,435.2 H1525.7 Q1527.7,435.2 1527.7,437.2 V449.7 Q1527.7,451.7 1525.7,451.7 H1472 Z" fill="#f23645"/>
<text x="1479.64" y="448" font-size="12.5" fill="#fff" font-weight="bold" textLength="43.02" lengthAdjust="spacingAndGlyphs">1.07882</text>
<path d="M1472,452.4 H1525.7 Q1527.7,452.4 1527.7,454.4 V466.5 Q1527.7,468.5 1525.7,468.5 H1472 Z" fill="#2a2aff"/>
<text x="1479.64" y="465" font-size="12.5" fill="#fff" font-weight="bold" textLength="43.02" lengthAdjust="spacingAndGlyphs">1.07778</text>
<path d="M1471,435.2 H1422 Q1420,435.2 1420,437.2 V449.7 Q1420,451.7 1422,451.7 H1471 Z" fill="#f23645"/>
<text x="1423.86" y="448" font-size="12.5" fill="#fff" font-weight="normal" textLength="42.75" lengthAdjust="spacingAndGlyphs">SMA:MA</text>
<path d="M1471,452.4 H1422 Q1420,452.4 1420,454.4 V466.5 Q1420,468.5 1422,468.5 H1471 Z" fill="#2a2aff"/>
<text x="1423.86" y="465" font-size="12.5" fill="#fff" font-weight="normal" textLength="42.75" lengthAdjust="spacingAndGlyphs">SMA:MA</text>
<path d="M1472,712 H1512.9 Q1514.9,712 1514.9,714 V727 Q1514.9,729 1512.9,729 H1472 Z" fill="#ffeb3b"/>
<text x="1479.73" y="725.2" font-size="12.5" fill="#131722" font-weight="normal" textLength="30.1" lengthAdjust="spacingAndGlyphs">54.30</text>
<path d="M1471,712 H1393 Q1391,712 1391,714 V727 Q1391,729 1393,729 H1471 Z" fill="#ffeb3b"/>
<text x="1394.54" y="725.2" font-size="12.5" fill="#131722" font-weight="normal" textLength="72.09" lengthAdjust="spacingAndGlyphs">RSI-based MA</text>
<path d="M1472,729.6 H1512.9 Q1514.9,729.6 1514.9,731.6 V743.7 Q1514.9,745.7 1512.9,745.7 H1472 Z" fill="#7e57c2"/>
<text x="1480.8" y="742.4" font-size="12.5" fill="#fff" font-weight="bold" textLength="30.1" lengthAdjust="spacingAndGlyphs">52.81</text>
<path d="M1471,729.6 H1447.2 Q1445.2,729.6 1445.2,731.6 V743.7 Q1445.2,745.7 1447.2,745.7 H1471 Z" fill="#7e57c2"/>
<text x="1450.4" y="742.4" font-size="12.5" fill="#fff" font-weight="bold" textLength="16.57" lengthAdjust="spacingAndGlyphs">RSI</text>
<text x="42.68" y="812.1" font-size="12.5" fill="#3b3e48" font-weight="normal" textLength="20.44" lengthAdjust="spacingAndGlyphs">Dec</text>
<text x="139.82" y="812.1" font-size="12.5" fill="#3b3e48" font-weight="normal" textLength="13.52" lengthAdjust="spacingAndGlyphs">18</text>
<text x="217.8" y="812.1" font-size="12.5" fill="#3b3e48" font-weight="normal" textLength="27.2" lengthAdjust="spacingAndGlyphs">2024</text>
<text x="308.47" y="812.1" font-size="12.5" fill="#3b3e48" font-weight="normal" textLength="14.09" lengthAdjust="spacingAndGlyphs">15</text>
<text x="415.27" y="812.1" font-size="12.5" fill="#3b3e48" font-weight="normal" textLength="21.18" lengthAdjust="spacingAndGlyphs">Feb</text>
<text x="503.39" y="812.1" font-size="12.5" fill="#3b3e48" font-weight="normal" textLength="13.86" lengthAdjust="spacingAndGlyphs">15</text>
<text x="592.5" y="812.1" font-size="12.5" fill="#3b3e48" font-weight="normal" textLength="20.72" lengthAdjust="spacingAndGlyphs">Mar</text>
<text x="689.09" y="812.1" font-size="12.5" fill="#3b3e48" font-weight="normal" textLength="13.86" lengthAdjust="spacingAndGlyphs">18</text>
<text x="770.76" y="812.1" font-size="12.5" fill="#3b3e48" font-weight="normal" textLength="20.32" lengthAdjust="spacingAndGlyphs">Apr</text>
<text x="858.61" y="812.1" font-size="12.5" fill="#3b3e48" font-weight="normal" textLength="13.64" lengthAdjust="spacingAndGlyphs">15</text>
<text x="955.85" y="812.1" font-size="12.5" fill="#3b3e48" font-weight="normal" textLength="21.88" lengthAdjust="spacingAndGlyphs">May</text>
<text x="1071.1" y="812.1" font-size="12.5" fill="#3b3e48" font-weight="normal" textLength="12.81" lengthAdjust="spacingAndGlyphs">20</text>
<text x="1152.9" y="812.1" font-size="12.5" fill="#3b3e48" font-weight="normal" textLength="18.6" lengthAdjust="spacingAndGlyphs">Jun</text>
<text x="1239.65" y="812.1" font-size="12.5" fill="#3b3e48" font-weight="normal" textLength="13.07" lengthAdjust="spacingAndGlyphs">17</text>
<text x="1324.5" y="812.1" font-size="12.5" fill="#3b3e48" font-weight="normal" textLength="19.28" lengthAdjust="spacingAndGlyphs">Jul</text>
<text x="1409.18" y="812.1" font-size="12.5" fill="#3b3e48" font-weight="normal" textLength="13.98" lengthAdjust="spacingAndGlyphs">15</text>
<g transform="translate(10,831.6) scale(0.55)" fill="#131722"><path d="M14 22H7V11H0V4h14v18zM28 22h-8l7.5-18h8L28 22z"/><circle cx="20" cy="8" r="4"/></g>
<text x="33.0" y="844.2" font-size="13.5" fill="#131722" font-weight="normal" textLength="70.91" lengthAdjust="spacingAndGlyphs">TradingView</text>
<g filter="url(#wsh)"><text x="1296" y="814" font-size="60" font-weight="bold" fill="#fff" font-style="italic" style="font-family:'Noto Sans CJK SC',sans-serif">海马财经</text></g>
<g filter="url(#wsh2)"><text x="0" y="0" transform="translate(1310,851.5) scale(1.3,1)" font-size="31" font-weight="bold" font-style="italic" fill="#8fd0c8" letter-spacing="5.2">zzrt01.cn</text></g>
</svg></body></html>
